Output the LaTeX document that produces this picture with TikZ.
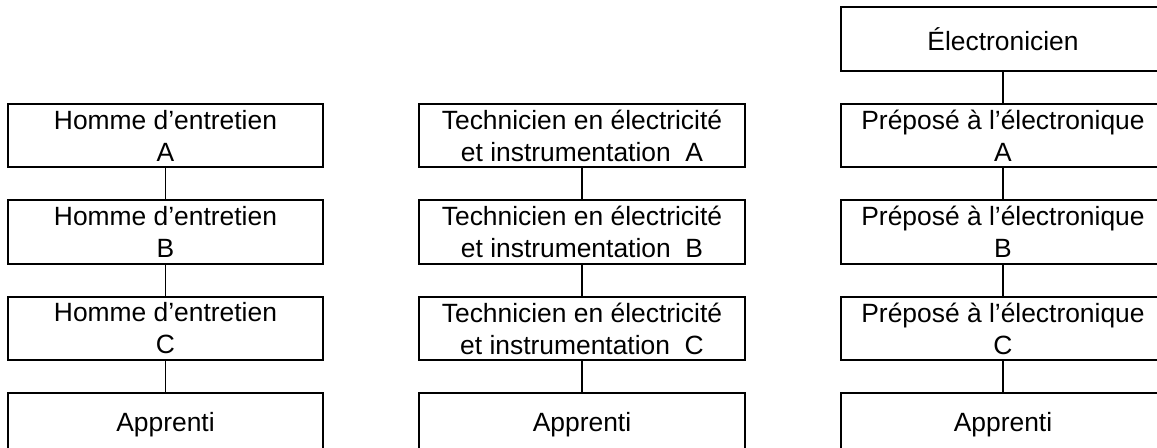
\documentclass[tikz,border=0pt]{standalone}
\usepackage{fontspec}
\setmainfont{Liberation Sans}
\usetikzlibrary{positioning}

\begin{document}
\begin{tikzpicture}[
    x=0.5pt, y=-0.5pt,
    node distance=15.6pt,
    rolebox/.style={rectangle, draw, line width=0.9pt, minimum width=#1, minimum height=31.75pt, inner sep=0pt, align=center, font=\fontsize{13.2}{16}\selectfont},
    rolebox/.default=157.5pt,
    link/.style={line width=0.9pt},
  ]
  \useasboundingbox (0,0) rectangle (1157,447);
  \clip (0,0) rectangle (1157,447);

  % Homme d'entretien column
  \node[rolebox] (hommeA) at (165.5,135.5) {Homme d’entretien\\A};
  \node[rolebox, below=of hommeA] (hommeB) {Homme d’entretien\\B};
  \node[rolebox, below=of hommeB] (hommeC) {Homme d’entretien\\C};
  \node[rolebox, below=of hommeC] (apprentiH) {Apprenti};

  % Technicien column
  \node[rolebox=163pt] (techA) at (582,135.5) {Technicien en électricité\\et instrumentation\ \ A};
  \node[rolebox=163pt, below=of techA] (techB) {Technicien en électricité\\et instrumentation\ \ B};
  \node[rolebox=163pt, below=of techB] (techC) {Technicien en électricité\\et instrumentation\ \ C};
  \node[rolebox=163pt, below=of techC] (apprentiT) {Apprenti};

  % Electronique column
  \node[rolebox=162pt] (prepA) at (1003,135.5) {Préposé à l’électronique\\A};
  \node[rolebox=162pt, above=of prepA] (elec) {Électronicien};
  \node[rolebox=162pt, below=of prepA] (prepB) {Préposé à l’électronique\\B};
  \node[rolebox=162pt, below=of prepB] (prepC) {Préposé à l’électronique\\C};
  \node[rolebox=162pt, below=of prepC] (apprentiE) {Apprenti};

  % Links
  \draw[link] (hommeA) -- (hommeB);
  \draw[link] (hommeB) -- (hommeC);
  \draw[link] (hommeC) -- (apprentiH);
  \draw[link] (techA) -- (techB);
  \draw[link] (techB) -- (techC);
  \draw[link] (techC) -- (apprentiT);
  \draw[link] (elec) -- (prepA);
  \draw[link] (prepA) -- (prepB);
  \draw[link] (prepB) -- (prepC);
  \draw[link] (prepC) -- (apprentiE);
\end{tikzpicture}
\end{document}
